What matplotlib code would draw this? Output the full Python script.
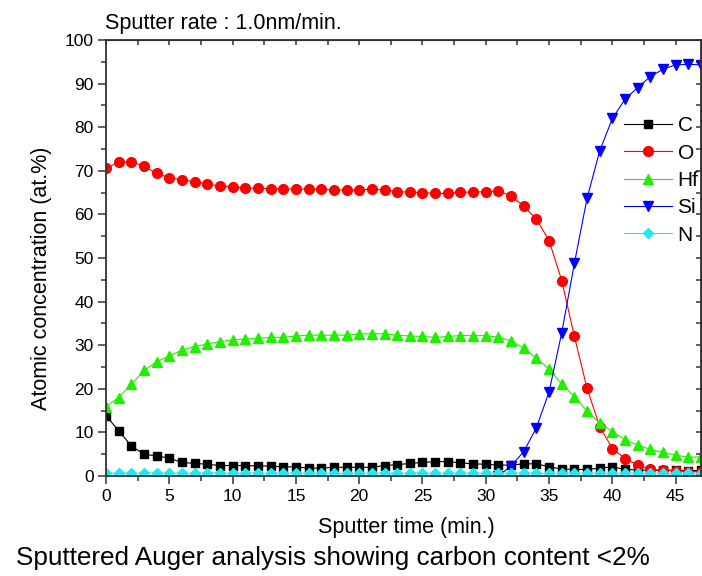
import numpy as np
import matplotlib
matplotlib.use("Agg")
import matplotlib.pyplot as plt
from matplotlib.ticker import MultipleLocator

plt.rcParams['font.family'] = ['Liberation Sans', 'DejaVu Sans']

# Sputter time (min.) and atomic concentrations (at.%)
t = np.arange(0, 48)
C = [13.8, 10.4, 6.9, 5.0, 4.6, 4.1, 3.1, 2.9, 2.7, 2.4, 2.4, 2.4, 2.3, 2.3, 2.1, 2.1,
     1.8, 1.8, 2.0, 2.0, 2.0, 2.0, 2.4, 2.6, 2.9, 3.1, 3.3, 3.3, 3.0, 2.8, 2.7, 2.5,
     2.5, 2.8, 2.8, 2.1, 1.6, 1.5, 1.5, 1.8, 2.1, 1.5, 1.4, 1.3, 1.3, 1.3, 1.2, 1.3]
O = [70.6, 71.9, 72.1, 71.1, 69.4, 68.4, 67.9, 67.5, 67.0, 66.5, 66.3, 66.0, 66.0, 65.9, 65.9, 65.8,
     65.8, 65.8, 65.6, 65.6, 65.6, 65.8, 65.6, 65.2, 65.1, 65.0, 64.8, 64.8, 65.1, 65.1, 65.2, 65.4,
     64.2, 61.9, 58.9, 54.0, 44.8, 32.0, 20.1, 11.3, 6.3, 4.0, 2.5, 1.5, 1.3, 1.2, 1.0, 1.0]
Hf = [15.9, 18.0, 21.0, 24.2, 26.2, 27.5, 28.9, 29.7, 30.3, 30.8, 31.2, 31.4, 31.6, 31.8, 31.8, 32.1,
      32.3, 32.3, 32.3, 32.3, 32.6, 32.6, 32.6, 32.3, 32.1, 32.0, 31.8, 32.0, 32.2, 32.2, 32.2, 31.8,
      31.0, 29.3, 27.0, 24.5, 21.1, 18.2, 14.9, 12.1, 10.2, 8.3, 7.1, 6.1, 5.4, 4.8, 4.3, 4.4]
t_si = np.arange(31, 48)
Si = [0.0, 2.3, 5.6, 11.1, 19.3, 32.9, 48.8, 63.7, 74.6, 82.0, 86.4, 89.1, 91.6, 93.3, 94.3, 94.4, 94.3]
N = [0.6, 0.7, 0.6, 0.7, 0.7, 0.6, 0.7, 0.6, 0.7, 0.7, 0.6, 0.7, 0.7, 0.6, 0.7, 0.7,
     0.6, 0.7, 0.6, 0.6, 0.7, 0.6, 0.7, 0.6, 0.7, 0.7, 0.6, 0.7, 0.6, 0.7, 0.6, 0.7,
     0.6, 0.7, 0.6, 0.6, 0.7, 0.6, 0.7, 0.6, 0.6, 0.7, 0.6, 0.7, 0.6, 0.6, 0.7, 0.6]

fig = plt.figure(figsize=(7.02, 5.76), dpi=100)
ax = fig.add_axes([0.151, 0.1736, 0.8476, 0.757])

ax.plot(t, C, '-s', color='black', lw=0.8, ms=6.3, label='C')
ax.plot(t, O, '-o', color='#ff0000', lw=0.8, ms=7, label='O')
ax.plot(t, Hf, '-^', color='#22ee00', lw=0.8, ms=7.2, label='Hf')
ax.plot(t_si, Si, '-v', color='#0000ff', lw=0.8, ms=7.2, label='Si')
ax.plot(t, N, '-D', color='#22e8f0', lw=0.8, ms=5.5, label='N')

ax.set_xlim(0, 47)
ax.set_ylim(0, 100)
ax.xaxis.set_major_locator(MultipleLocator(5))
ax.xaxis.set_minor_locator(MultipleLocator(2.5))
ax.yaxis.set_major_locator(MultipleLocator(10))
ax.yaxis.set_minor_locator(MultipleLocator(5))
for s in ax.spines.values():
    s.set_linewidth(1.3)
    s.set_color('#333333')
ax.tick_params(which='both', direction='out', width=1.1, color='#333333', labelsize=12.5)
ax.tick_params(which='major', length=6, pad=3)
ax.tick_params(which='minor', length=3.5)

# inward ticks on top and right
top = ax.secondary_xaxis('top')
top.xaxis.set_major_locator(MultipleLocator(2.5))
top.tick_params(direction='in', length=3.5, width=1.1, color='#333333', labeltop=False)
right = ax.secondary_yaxis('right')
right.yaxis.set_major_locator(MultipleLocator(5))
right.tick_params(direction='in', length=3.5, width=1.1, color='#333333', labelright=False)

ax.set_xlabel('Sputter time (min.)', fontsize=15.5)
ax.set_ylabel('Atomic concentration (at.%)', fontsize=15.5)
ax.xaxis.set_label_coords(0.504, -0.094)
ax.yaxis.set_label_coords(-0.09, 0.454)

ax.legend(loc='upper left', bbox_to_anchor=(614 / 702, 1 - 106 / 576),
          bbox_transform=fig.transFigure, frameon=False, fontsize=15,
          handlelength=2.3, handletextpad=0.25, labelspacing=0.4, borderpad=0)

fig.text(105 / 702, 1 - 29 / 576, 'Sputter rate : 1.0nm/min.', fontsize=15.5, va='baseline')
fig.text(16 / 702, 1 - 565 / 576, 'Sputtered Auger analysis showing carbon content <2%',
         fontsize=18.8, va='baseline')

fig.savefig('out.png', dpi=100)
